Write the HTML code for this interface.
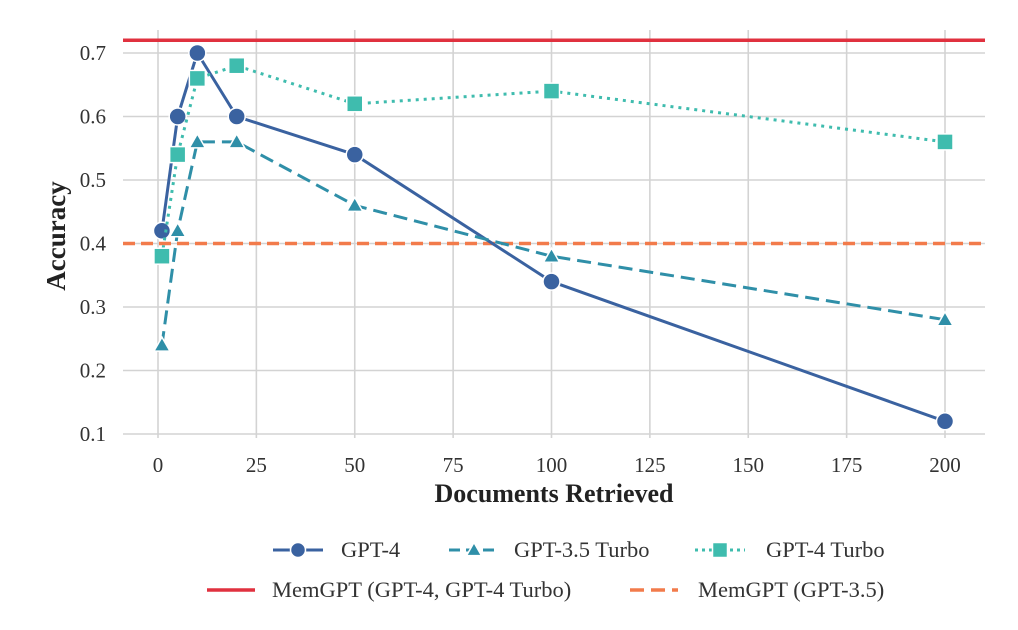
<!DOCTYPE html>
<html><head><meta charset="utf-8"><style>
body{margin:0;background:#fff;}
svg text{font-family:"Liberation Serif",serif;fill:#333;}
</style></head><body>
<svg id="chart" width="1018" height="625" viewBox="0 0 1018 625" xmlns="http://www.w3.org/2000/svg">
<g id="grid"></g>
<g id="ref"></g>
<g id="series"></g>
<g id="axes"></g>
<text x="554" y="502" text-anchor="middle" font-size="26" font-weight="bold" style="fill:#222">Documents Retrieved</text>
<text transform="translate(65,236) rotate(-90)" text-anchor="middle" font-size="27" font-weight="bold" style="fill:#222">Accuracy</text>
<g id="legend"></g>
</svg>
<script>
const docs=[1,5,10,20,50,100,200];
const gpt4=[0.42,0.6,0.7,0.6,0.54,0.34,0.12];
const gpt35=[0.24,0.42,0.56,0.56,0.46,0.38,0.28];
const gpt4turbo=[0.38,0.54,0.66,0.68,0.62,0.64,0.56];
const memgpt4=0.72;
const memgpt35=0.4;
const xTicks=[0,25,50,75,100,125,150,175,200];
const yTicks=[0.1,0.2,0.3,0.4,0.5,0.6,0.7];

const NS="http://www.w3.org/2000/svg";
const X=v=>158+v*(945-158)/200;
const Y=v=>434-(v-0.1)*(434-53)/0.6;
const L=123,R=985,T=30,B=438;
function mk(tag,attrs,parent){const e=document.createElementNS(NS,tag);for(const k in attrs)e.setAttribute(k,attrs[k]);parent.appendChild(e);return e;}
const grid=document.getElementById('grid'),axes=document.getElementById('axes');
xTicks.forEach(t=>{
 const l=mk('line',{x1:X(t),x2:X(t),y1:T,y2:B,stroke:'#d3d3d3','stroke-width':1.6},grid);
 
 
 const tx=mk('text',{x:X(t),y:472,'text-anchor':'middle','font-size':21},axes);
 tx.textContent=t;
 
 
});
yTicks.forEach(t=>{
 const l=mk('line',{x1:L,x2:R,y1:Y(t),y2:Y(t),stroke:'#d3d3d3','stroke-width':1.6},grid);
 
 
 const tx=mk('text',{x:106,y:Y(t)+7,'text-anchor':'end','font-size':21},axes);
 tx.textContent=t.toFixed(1);
 
 
});
const ref=document.getElementById('ref');
const r1=mk('line',{x1:L,x2:R,y1:Y(memgpt4),y2:Y(memgpt4),stroke:'#e0313f','stroke-width':3.5},ref);


const r2=mk('line',{x1:L,x2:R,y1:Y(memgpt35),y2:Y(memgpt35),stroke:'#f27b4b','stroke-width':3.5,'stroke-dasharray':'12 6'},ref);



function marker(shape,x,y,c,p,s){
 let e;
 if(shape==='circle')e=mk('circle',{cx:x,cy:y,r:s,fill:c,stroke:'#fff','stroke-width':1.5},p);
 else if(shape==='tri')e=mk('polygon',{points:`${x},${y-s} ${x-s},${y+s*0.75} ${x+s},${y+s*0.75}`,fill:c,stroke:'#fff','stroke-width':1.5},p);
 else e=mk('rect',{x:x-s,y:y-s,width:2*s,height:2*s,fill:c,stroke:'#fff','stroke-width':1.5},p);
 return e;
}
const ser=document.getElementById('series');
const defs=[
 {name:'gpt-4',vals:gpt4,c:'#3a62a0',dash:'',shape:'circle',s:8.5},
 {name:'gpt-3.5-turbo',vals:gpt35,c:'#2f8fa8',dash:'14 7',shape:'tri',s:8},
 {name:'gpt-4-turbo',vals:gpt4turbo,c:'#3fbcae',dash:'3 5',shape:'sq',s:8}
];
defs.forEach(d=>{
 const g=mk('g',{},ser);
 
 
 const pl=mk('polyline',{points:docs.map((x,i)=>X(x)+','+Y(d.vals[i])).join(' '),fill:'none',stroke:d.c,'stroke-width':3,'stroke-dasharray':d.dash,'stroke-linejoin':'round'},g);
 
 
 docs.forEach((x,i)=>{
  const m=marker(d.shape,X(x),Y(d.vals[i]),d.c,g,d.s);
  
  
 });
});
const lg=document.getElementById('legend');
const row1=[[273,341,'GPT-4',0],[449,514,'GPT-3.5 Turbo',1],[695,766,'GPT-4 Turbo',2]];
row1.forEach(([x,tx0,label,i])=>{
 const d=defs[i];
 const l=mk('line',{x1:x,x2:x+50,y1:550,y2:550,stroke:d.c,'stroke-width':3,'stroke-dasharray':i===0?'':(i===1?'11 6':'3 4')},lg);
 
 
 const m=marker(d.shape,x+25,550,d.c,lg,7.5);
 
 
 const t=mk('text',{x:tx0,y:557,'font-size':22.5},lg);
 t.textContent=label;
 
 
});
const row2=[[207,272,'MemGPT (GPT-4, GPT-4 Turbo)','#e0313f',''],[630,698,'MemGPT (GPT-3.5)','#f27b4b','14 7']];
row2.forEach(([x,tx0,label,c,dash])=>{
 const l=mk('line',{x1:x,x2:x+48,y1:590,y2:590,stroke:c,'stroke-width':3.5,'stroke-dasharray':dash},lg);
 
 
 const t=mk('text',{x:tx0,y:597,'font-size':22.5},lg);
 t.textContent=label;
 
 
});
</script>
</body></html>
